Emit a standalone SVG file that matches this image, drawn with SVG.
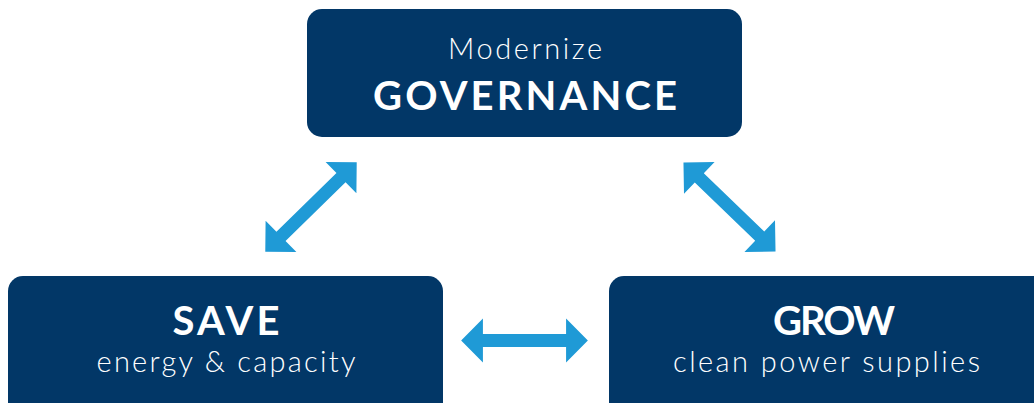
<svg xmlns="http://www.w3.org/2000/svg" xmlns:xlink="http://www.w3.org/1999/xlink" width="1034" height="403" viewBox="0 0 1034 403">
  <style>
    .box { fill: #023767; }
    .light { font-family: Lato, "Open Sans", "Liberation Sans", sans-serif; font-weight: 300; font-size: 29px; fill: #ffffff; text-anchor: middle; }
    .bold { font-family: Lato, "Open Sans", "Liberation Sans", sans-serif; font-weight: 700; font-size: 40px; fill: #ffffff; text-anchor: middle; }
    .arrow { fill: #1f9ad6; }
  </style>
  <defs>
    <!-- double-headed arrow, 128 long, centred on the origin, pointing along x -->
    <path id="dbl" d="M-64,0 L-42,-22 L-42,-6.5 L42,-6.5 L42,-22 L64,0 L42,22 L42,6.5 L-42,6.5 L-42,22 Z"/>
  </defs>
  <rect width="1034" height="403" fill="#ffffff"/>

  <g id="connectors" class="arrow">
    <use xlink:href="#dbl" transform="translate(311,207) rotate(-44.4)"/>
    <use xlink:href="#dbl" transform="translate(729.5,207) rotate(44)"/>
    <use xlink:href="#dbl" transform="translate(524.5,340.5) scale(0.99,1)"/>
  </g>

  <g id="governance">
    <rect class="box" x="307" y="9" width="435" height="128" rx="15"/>
    <text class="light" x="525" y="59" textLength="154" lengthAdjust="spacing">Modernize</text>
    <text class="bold" x="525" y="110" textLength="304" lengthAdjust="spacing">GOVERNANCE</text>
  </g>

  <g id="save">
    <rect class="box" x="8" y="276" width="435" height="150" rx="15"/>
    <text class="bold" x="226" y="335" textLength="107" lengthAdjust="spacing">SAVE</text>
    <text class="light" x="226" y="372" textLength="259" lengthAdjust="spacing">energy &amp; capacity</text>
  </g>

  <g id="grow">
    <rect class="box" x="609" y="276" width="450" height="150" rx="15"/>
    <text class="bold" x="834" y="335" textLength="122" lengthAdjust="spacing">GROW</text>
    <text class="light" x="826.5" y="372" textLength="307" lengthAdjust="spacing">clean power supplies</text>
  </g>
</svg>
